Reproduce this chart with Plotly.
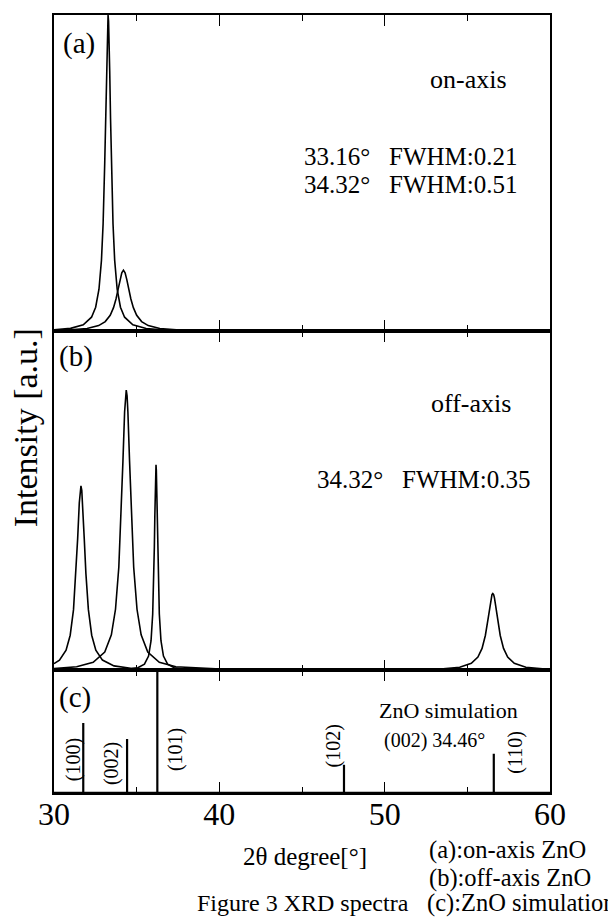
import plotly.graph_objects as go
from plotly.subplots import make_subplots

# ---------------- data ----------------
# panel (a) on-axis ZnO : two fitted peaks
a1_x = [30.0, 31.0, 31.77, 32.27, 32.52, 32.72, 32.87, 32.97, 33.07, 33.12, 33.17, 33.21, 33.24, 33.27,
        33.30, 33.33, 33.37, 33.42, 33.47, 33.57, 33.67, 33.82, 34.02, 34.27, 34.77, 35.57, 36.5, 38.27,
        43.27, 50.0, 60.0]
a1_y = [0.43, 0.89, 2.01, 4.42, 7.59, 13.26, 22.4, 33.9, 53.6, 67.3, 82.2, 92.8, 98.1, 100.0,
        98.1, 92.8, 82.2, 67.3, 53.6, 33.9, 22.4, 13.26, 7.59, 4.42, 2.01, 0.87, 0.44, 0.19,
        0.05, 0.02, 0.01]
a2_x = [30.0, 31.0, 32.0, 32.7, 33.1, 33.4, 33.6, 33.75, 33.9, 34.0, 34.1, 34.2, 34.3, 34.4, 34.5,
        34.65, 34.8, 35.0, 35.3, 35.7, 36.4, 37.4, 40.0, 44.2, 60.0]
a2_y = [0.24, 0.42, 0.86, 1.76, 3.03, 5.03, 7.43, 10.17, 13.80, 16.39, 18.48, 19.3, 18.48, 16.39, 13.80,
        10.17, 7.43, 5.03, 3.03, 1.76, 0.86, 0.42, 0.13, 0.04, 0.01]

# panel (b) off-axis ZnO : four fitted peaks
b1_x = [30.0, 30.33, 30.73, 30.98, 31.18, 31.33, 31.43, 31.53, 31.58, 31.63, 31.68, 31.73, 31.83, 31.93,
        32.08, 32.28, 32.53, 32.93, 33.63, 34.63, 36.63, 41.63, 60.0]
b1_y = [2.37, 3.65, 7.18, 12.52, 21.64, 34.51, 46.90, 59.77, 64.18, 65.8, 64.18, 59.77, 46.90, 34.51,
        21.64, 12.52, 7.18, 3.65, 1.59, 0.72, 0.26, 0.07, 0.01]
b2_x = [30.0, 31.37, 32.37, 33.07, 33.47, 33.72, 33.92, 34.07, 34.17, 34.27, 34.32, 34.37, 34.42, 34.47,
        34.57, 34.67, 34.82, 35.02, 35.27, 35.67, 36.37, 37.37, 40.37, 44.37, 60.0]
b2_y = [0.61, 1.29, 2.86, 6.51, 12.68, 21.78, 36.75, 56.66, 74.63, 92.17, 97.92, 100.0, 97.92, 92.17,
        74.63, 56.66, 36.75, 21.78, 12.68, 6.51, 2.86, 1.29, 0.33, 0.12, 0.02]
b3_x = [30.0, 32.67, 34.17, 35.07, 35.47, 35.72, 35.87, 35.97, 36.02, 36.07, 36.10, 36.13, 36.15, 36.17,
        36.19, 36.21, 36.24, 36.27, 36.32, 36.37, 36.47, 36.62, 36.87, 37.27, 38.17, 39.67, 46.17, 60.0]
b3_y = [0.03, 0.09, 0.28, 0.91, 2.19, 5.09, 10.55, 20.11, 29.47, 44.13, 55.36, 66.29, 71.41, 73.3,
        71.41, 66.29, 55.36, 44.13, 29.47, 20.11, 10.55, 5.09, 2.19, 0.91, 0.28, 0.09, 0.01, 0.0]
b4_x = [30.0, 46.54, 51.54, 53.54, 54.54, 55.24, 55.64, 55.89, 56.09, 56.24, 56.34, 56.44, 56.49, 56.54,
        56.59, 56.64, 56.74, 56.84, 56.99, 57.19, 57.44, 57.84, 58.54, 59.54, 60.0]
b4_y = [0.01, 0.05, 0.18, 0.50, 1.10, 2.48, 4.71, 7.80, 12.43, 17.85, 22.13, 25.86, 27.0, 27.4,
        27.0, 25.86, 22.13, 17.85, 12.43, 7.80, 4.71, 2.48, 1.10, 0.50, 0.38]

# panel (c) ZnO simulation : stick pattern
sim_pos = [31.77, 34.42, 36.25, 47.54, 56.60]
sim_int = [57, 44, 100, 23, 32]
sim_hkl = ["(100)", "(002)", "(101)", "(102)", "(110)"]

x_ticks = [30, 40, 50, 60]
x_minor = [35, 45, 55]

FONT = "Liberation Serif, Times New Roman, serif"
BLACK = "black"

fig = make_subplots(rows=3, cols=1, shared_xaxes=True, vertical_spacing=0,
                    row_heights=[317, 340, 123])

def curve(x, y, row):
    fig.add_trace(go.Scatter(x=x, y=y, mode="lines",
                             line=dict(color=BLACK, width=1.6), hoverinfo="skip"),
                  row=row, col=1)

curve(a1_x, a1_y, 1)
curve(a2_x, a2_y, 1)
for bx, by in [(b1_x, b1_y), (b2_x, b2_y), (b3_x, b3_y), (b4_x, b4_y)]:
    curve(bx, by, 2)

# sticks
sx, sy = [], []
for p, h in zip(sim_pos, sim_int):
    sx += [p, p, None]
    sy += [0, h, None]
fig.add_trace(go.Scatter(x=sx, y=sy, mode="lines", line=dict(color=BLACK, width=2.2),
                         hoverinfo="skip"), row=3, col=1)

xax = dict(range=[30, 60], tickvals=x_ticks, ticks="inside", ticklen=11, tickwidth=1.4,
           tickcolor=BLACK, showline=True, linewidth=1.5, linecolor=BLACK, mirror="ticks",
           showgrid=False, zeroline=False,
           minor=dict(tickvals=x_minor, ticks="inside", ticklen=6, tickwidth=1.2, tickcolor=BLACK),
           tickfont=dict(family=FONT, size=32, color=BLACK))
for r in (1, 2, 3):
    fig.update_xaxes(**xax, row=r, col=1)
fig.update_xaxes(showticklabels=True, ticklabelstandoff=-8, row=3, col=1)

yranges = {1: [0, 100], 2: [0, 121], 3: [0, 100]}
for r, rg in yranges.items():
    fig.update_yaxes(range=rg, showline=True, linewidth=1.5, linecolor=BLACK, mirror=True,
                     ticks="", showticklabels=False, showgrid=False, zeroline=False, row=r, col=1)

# thicker bottom lines of each panel
shapes = []
for yr in ("y domain", "y2 domain", "y3 domain"):
    shapes.append(dict(type="line", xref="paper", yref=yr, x0=0, x1=1, y0=0, y1=0,
                       line=dict(color=BLACK, width=2.6)))

def ann(text, x, y, size, xref, yref, xanchor="center", angle=0):
    return dict(text=text, x=x, y=y, xref=xref, yref=yref, showarrow=False,
                xanchor=xanchor, yanchor="middle", textangle=angle,
                font=dict(family=FONT, size=size, color=BLACK))

sp = "\u00a0\u00a0\u00a0"
anns = [
    ann("(a)", 30.42, 90.9, 29, "x", "y", "left"),
    ann("on-axis", 55.05, 79.5, 26, "x", "y"),
    ann("33.16°" + sp + "FWHM:0.21", 51.57, 55.2, 25, "x", "y"),
    ann("34.32°" + sp + "FWHM:0.51", 51.57, 46.4, 25, "x", "y"),
    ann("(b)", 30.18, 112.1, 29, "x2", "y2", "left"),
    ann("off-axis", 55.2, 95.3, 26, "x2", "y2"),
    ann("34.32°" + sp + "FWHM:0.35", 52.32, 68.2, 25, "x2", "y2"),
    ann("(c)", 30.18, 78, 29, "x3", "y3", "left"),
    ann("ZnO simulation", 53.84, 67.5, 22, "x3", "y3"),
    ann("(002) 34.46°", 52.99, 43, 20, "x3", "y3"),
    ann("Intensity [a.u.]", -0.058, 0.469, 34, "paper", "paper", "center", -90),
    ann("2θ degree[°]", 0.506, -0.082, 25, "paper", "paper"),
    ann("Figure 3 XRD spectra", 0.502, -0.141, 24, "paper", "paper"),
    ann("(a):on-axis ZnO", 0.752, -0.073, 24.5, "paper", "paper", "left"),
    ann("(b):off-axis ZnO", 0.752, -0.109, 24.5, "paper", "paper", "left"),
    ann("(c):ZnO simulation", 0.748, -0.141, 24.5, "paper", "paper", "left"),
]
# hkl labels beside the sticks (rotated)
hkl_xy = [(31.15, 26.8), (33.45, 23.6), (37.32, 35), (46.88, 38), (57.89, 33)]
for lab, (hx, hy) in zip(sim_hkl, hkl_xy):
    anns.append(ann(lab, hx, hy, 20, "x3", "y3", "center", -90))

# page body has an 8px margin, so the figure is drawn 8px smaller and offset
fig.update_layout(width=608, height=912, margin=dict(l=46, r=66, t=5, b=127),
                  plot_bgcolor="white", paper_bgcolor="white", showlegend=False,
                  shapes=shapes, annotations=anns)

fig.write_html("out.html")
